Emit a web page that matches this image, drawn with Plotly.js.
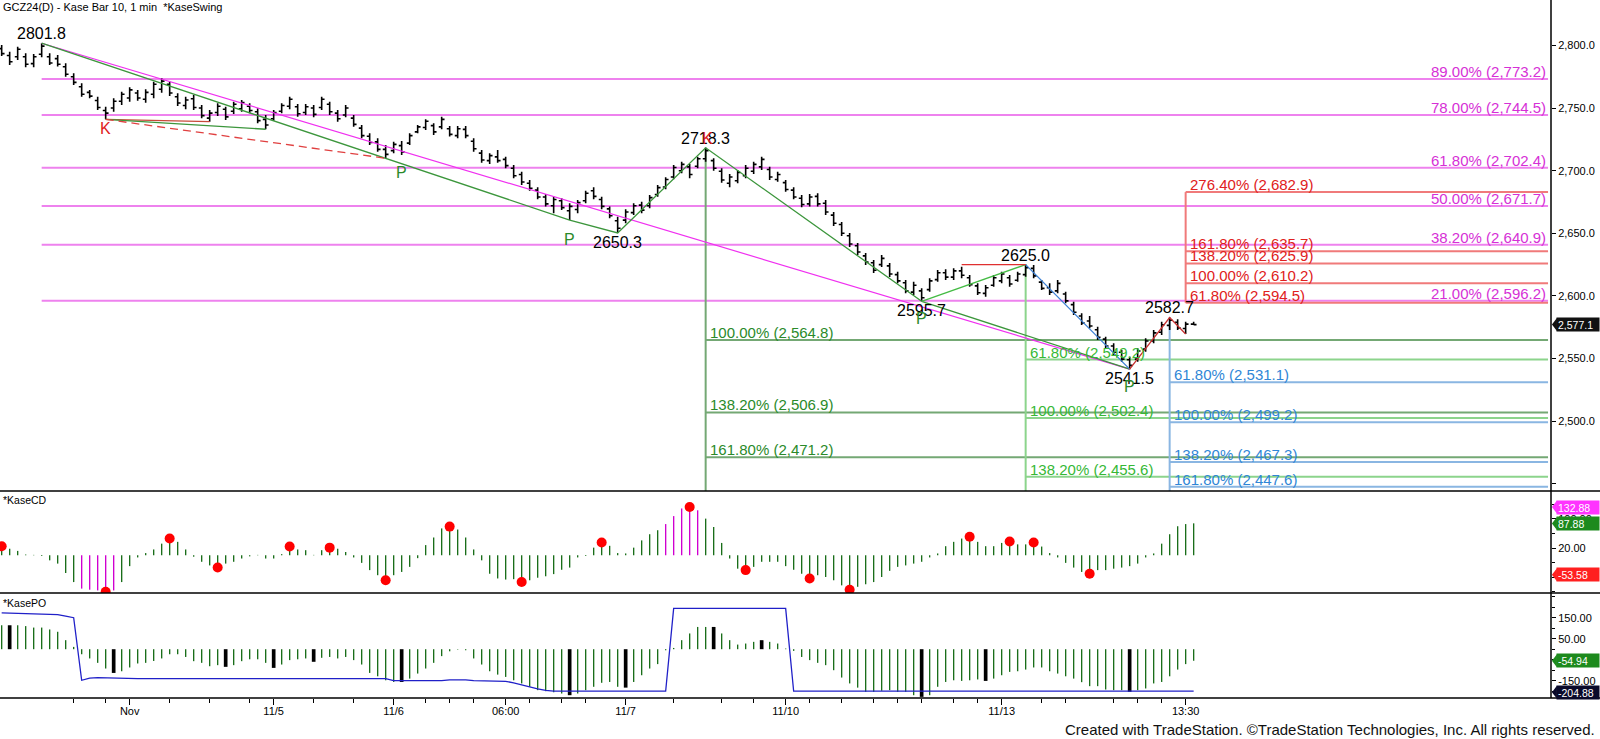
<!DOCTYPE html>
<html><head><meta charset="utf-8">
<script src="https://cdn.plot.ly/plotly-3.0.1.min.js"></script>
<style>html,body{margin:0;padding:0;background:#fff;}#chart{width:1600px;height:739px;}</style>
</head><body><div id="chart"></div>
<script>
// ---------------- DATA ----------------
const barOpen = [2797.5,2792.0,2791.0,2791.0,2785.5,2793.0,2791.0,2789.5,2783.0,2775.0,
 2767.0,2762.5,2756.0,2748.0,2750.0,2755.5,2758.0,2762.0,2757.0,2761.0,
 2765.0,2769.0,2759.0,2752.0,2757.5,2750.0,2742.0,2746.5,2749.0,2747.5,
 2749.5,2751.5,2747.0,2741.0,2741.5,2747.5,2751.5,2751.0,2746.5,2750.0,
 2750.5,2753.0,2746.0,2744.5,2742.0,2734.0,2727.5,2723.0,2717.0,2716.0,
 2720.0,2722.0,2731.0,2734.5,2736.0,2735.0,2733.5,2728.0,2733.0,2723.5,
 2714.0,2708.0,2711.0,2709.0,2702.0,2697.0,2690.0,2684.5,2679.0,2672.0,
 2676.0,2668.0,2669.0,2676.0,2684.0,2677.0,2669.5,2660.0,2660.5,2666.5,
 2672.5,2672.0,2681.0,2687.0,2695.0,2700.0,2703.0,2703.5,2709.5,2708.0,
 2699.5,2690.0,2692.0,2696.0,2699.5,2703.0,2701.0,2693.0,2690.5,2684.5,
 2678.0,2673.5,2679.5,2674.0,2664.5,2657.0,2648.0,2640.0,2632.0,2626.5,
 2625.0,2624.0,2617.0,2610.5,2603.0,2604.0,2605.0,2613.0,2618.5,2615.0,
 2620.0,2614.5,2608.0,2602.0,2608.5,2612.0,2614.5,2612.5,2617.0,2622.0,
 2611.0,2606.5,2604.0,2601.5,2593.0,2584.0,2580.0,2573.0,2565.5,2560.0,
 2555.0,2549.0,2549.5,2557.5,2564.0,2571.0,2576.5,2579.0,2574.0,2577.5];
const barHigh = [2800.4,2795.0,2799.0,2793.8,2793.2,2801.8,2793.8,2792.4,2785.8,2777.8,
 2769.8,2764.5,2759.1,2751.1,2757.8,2763.1,2766.6,2764.5,2765.0,2771.1,
 2773.8,2771.1,2761.8,2759.1,2760.5,2752.5,2748.5,2753.8,2751.1,2755.1,
 2756.5,2753.8,2749.8,2744.5,2748.5,2753.8,2759.1,2753.3,2753.3,2752.5,
 2759.1,2755.1,2748.5,2752.5,2744.5,2736.5,2729.9,2725.9,2720.5,2723.2,
 2723.7,2729.9,2736.5,2741.1,2737.9,2743.1,2735.7,2735.7,2735.7,2725.9,
 2716.5,2713.9,2716.5,2711.2,2704.5,2699.2,2692.6,2686.7,2681.4,2679.2,
 2678.0,2674.0,2676.6,2684.0,2686.7,2679.2,2671.3,2663.3,2669.2,2674.0,
 2675.2,2680.6,2688.6,2694.7,2704.5,2707.2,2705.3,2711.2,2718.3,2709.9,
 2701.9,2697.4,2700.6,2704.5,2707.2,2711.2,2703.2,2699.2,2692.6,2686.7,
 2680.6,2681.4,2681.9,2676.6,2667.0,2659.0,2650.2,2642.3,2634.3,2628.7,
 2632.7,2626.3,2619.3,2612.7,2611.3,2606.1,2614.1,2620.7,2621.2,2622.0,
 2623.3,2616.7,2610.1,2608.7,2616.7,2619.3,2616.7,2619.3,2625.0,2624.7,
 2612.7,2610.1,2612.7,2603.3,2595.4,2586.1,2583.9,2575.4,2567.4,2562.1,
 2556.8,2551.4,2558.2,2566.1,2572.8,2579.4,2582.7,2581.3,2579.4,2579.4];
const barLow = [2791.6,2784.4,2788.4,2782.6,2782.6,2790.6,2784.4,2783.1,2775.1,2768.4,
 2759.1,2757.8,2748.5,2741.0,2747.1,2752.5,2755.1,2755.9,2754.3,2757.8,
 2762.3,2759.7,2751.7,2749.0,2748.5,2741.8,2739.1,2743.7,2740.5,2745.3,
 2747.1,2745.8,2737.9,2733.1,2739.9,2745.8,2749.0,2743.1,2744.5,2742.6,
 2748.5,2744.5,2739.1,2742.6,2735.1,2725.9,2720.5,2715.2,2709.9,2713.9,
 2712.5,2720.5,2729.9,2732.5,2728.5,2733.1,2727.2,2725.9,2725.9,2715.2,
 2706.4,2705.4,2706.4,2701.9,2693.9,2688.6,2684.0,2677.2,2671.3,2666.0,
 2668.6,2660.6,2666.0,2673.9,2677.2,2669.2,2662.0,2650.3,2658.0,2664.6,
 2666.0,2669.9,2679.2,2685.1,2693.1,2697.9,2693.9,2701.9,2707.2,2700.0,
 2690.4,2686.7,2689.9,2693.9,2697.4,2700.6,2692.6,2691.2,2683.2,2677.2,
 2670.8,2671.3,2671.3,2664.6,2655.8,2647.8,2639.1,2632.7,2624.7,2618.3,
 2623.1,2615.1,2610.1,2602.1,2600.7,2595.7,2603.4,2611.3,2612.7,2612.7,
 2614.1,2607.4,2600.7,2599.4,2607.4,2610.1,2607.4,2611.3,2615.3,2614.1,
 2604.7,2600.7,2602.1,2594.1,2584.8,2576.7,2574.1,2564.8,2558.2,2552.8,
 2547.4,2541.5,2547.4,2555.4,2562.1,2568.8,2572.8,2572.8,2569.6,2576.7];
const barClose = [2793.5,2787.0,2797.0,2785.0,2791.0,2799.5,2786.0,2785.0,2777.0,2770.5,
 2761.0,2759.5,2750.5,2746.0,2755.5,2761.0,2764.5,2758.0,2762.5,2769.0,
 2771.5,2762.0,2754.0,2756.5,2750.5,2744.0,2746.0,2751.5,2743.0,2753.0,
 2754.5,2748.0,2740.0,2736.5,2746.5,2752.0,2757.0,2745.5,2751.0,2745.0,
 2757.0,2747.0,2741.5,2750.0,2737.0,2728.0,2722.5,2717.0,2713.0,2721.0,
 2715.0,2728.0,2735.0,2739.5,2731.0,2741.0,2729.0,2733.5,2728.0,2717.5,
 2708.5,2712.0,2708.0,2704.0,2696.0,2691.0,2686.0,2679.0,2673.5,2677.0,
 2670.5,2671.5,2674.5,2682.0,2679.5,2671.5,2664.0,2654.0,2667.0,2672.0,
 2668.5,2678.5,2686.5,2693.0,2702.5,2705.0,2697.0,2709.5,2716.0,2702.0,
 2692.5,2695.0,2698.5,2702.0,2705.0,2709.0,2695.0,2697.0,2685.0,2679.0,
 2673.0,2679.0,2673.5,2667.0,2658.0,2650.0,2641.5,2635.0,2627.0,2620.5,
 2630.0,2617.5,2612.0,2604.0,2608.5,2598.5,2612.0,2618.5,2615.0,2620.0,
 2616.5,2609.0,2602.5,2606.5,2614.5,2617.5,2609.5,2617.5,2622.5,2616.0,
 2606.0,2603.0,2610.0,2596.0,2587.0,2578.5,2576.0,2567.0,2560.0,2555.0,
 2549.5,2544.5,2556.0,2564.0,2570.5,2577.0,2580.5,2574.5,2577.5,2577.1];

const cdValues = [25,18,12,2,1,-2,-14,-23,-49,-74,
 -92,-95,-97,-101,-97,-74,-30,-6,6,16,
 32,46,37,16,-4,-18,-28,-34,-23,-18,
 -9,-3,1,-9,-9,3,24,16,14,1,
 14,21,18,9,-6,-21,-41,-55,-69,-55,
 -46,-32,-8,28,49,74,79,71,49,16,
 -14,-51,-64,-67,-66,-74,-69,-62,-58,-52,
 -40,-34,-6,-2,21,35,26,6,5,21,
 41,58,69,86,108,129,133,124,101,78,
 34,-9,-37,-41,-32,-18,-18,-18,-30,-40,
 -51,-64,-55,-60,-69,-83,-95,-87,-80,-74,
 -60,-43,-32,-28,-23,-18,-6,5,25,37,
 46,51,37,25,25,34,38,30,30,35,
 24,6,-6,-21,-34,-46,-51,-41,-41,-37,
 -34,-30,-23,-6,5,32,58,80,86,88];
const cdMagentaIdx = [10,11,12,13,14,83,84,85,86,87];
const cdDotIdx = [0,13,21,27,36,41,48,56,65,75,86,93,101,106,121,126,129,136];

const poValues = [114,114,114,110,103,103,94,83,43,11,
 -24,-44,-65,-92,-113,-105,-87,-68,-65,-56,
 -44,-24,-24,-37,-57,-65,-81,-76,-84,-76,
 -57,-48,-48,-65,-89,-73,-52,-48,-44,-60,
 -41,-37,-44,-37,-52,-73,-113,-129,-148,-156,
 -156,-140,-116,-92,-65,-33,-10,-2,-5,-44,
 -73,-105,-121,-132,-148,-163,-179,-195,-200,-205,
 -211,-219,-211,-195,-179,-160,-156,-179,-183,-156,
 -124,-92,-71,-5,6,43,75,106,106,106,
 75,43,22,27,35,43,35,27,3,-8,
 -37,-52,-65,-76,-100,-135,-163,-183,-203,-203,
 -198,-195,-203,-203,-219,-227,-219,-179,-156,-148,
 -151,-148,-144,-151,-140,-124,-108,-105,-97,-87,
 -87,-105,-116,-129,-140,-157,-176,-176,-192,-195,
 -195,-203,-195,-187,-163,-156,-129,-97,-71,-55];
const poBlackIdx = [1,14,28,34,39,50,71,78,89,95,115,123,141];
const poLine = [173,172,171,170,170,169,168,165,158,150,
 -148,-138,-135,-136,-140,-140,-140,-140,-140,-140,
 -140,-140,-140,-140,-140,-140,-140,-140,-140,-140,
 -140,-140,-140,-140,-140,-140,-140,-140,-140,-140,
 -140,-140,-140,-140,-140,-140,-140,-140,-140,-150,
 -150,-150,-150,-150,-150,-150,-146,-145,-146,-150,
 -150,-151,-152,-153,-160,-170,-180,-189,-196,-200,
 -200,-200,-200,-200,-200,-200,-200,-200,-200,-200,
 -200,-200,-200,-200,194,194,194,194,194,194,
 194,194,194,194,194,194,194,194,194,-200,
 -200,-200,-200,-200,-200,-200,-200,-200,-200,-200,
 -200,-200,-200,-200,-200,-200,-200,-200,-200,-200,
 -200,-200,-200,-200,-200,-200,-200,-200,-200,-200,
 -200,-200,-200,-200,-200,-200,-200,-200,-200,-200,
 -200,-200,-200,-200,-200,-200,-200,-200,-200,-200];

// swing lines (bar index, price)
const trendMagentaX = [5, 141], trendMagentaY = [2801.8, 2541.5];
const greenSwingX = [5, 71, 77, 88, 115], greenSwingY = [2801.8, 2660.6, 2650.3, 2718.3, 2595.7];
const greenLongX = [115, 141], greenLongY = [2595.7, 2541.5];
const lightGreenX = [115, 128], lightGreenY = [2595.7, 2625.0];
const blueSwingX = [128, 141], blueSwingY = [2625.0, 2541.5];
const redSwingX = [141, 146, 148], redSwingY = [2541.5, 2582.7, 2569.6];
const redTopX = [120, 128], redTopY = [2625.0, 2625.0];
const kRedX = [13, 26], kRedY = [2741.0, 2739.1];
const kGreenX = [13, 33], kGreenY = [2741.0, 2733.1];
const kDashX = [13, 48], kDashY = [2741.0, 2709.9];

// price swing labels
const swingLabelText = ['2801.8', '2650.3', '2718.3', '2595.7', '2625.0', '2541.5', '2582.7'];
const swingLabelIdx = [5, 77, 88, 115, 128, 141, 146];
const swingLabelPrice = [2809.2, 2642.7, 2726.1, 2588.3, 2632.3, 2534.0, 2591.1];
const kpText = ['K', 'K', 'P', 'P', 'P', 'P'];
const kpIdx = [13, 88.2, 50, 71, 115, 141];
const kpPrice = [2733.7, 2726.1, 2698.2, 2645.4, 2581.6, 2528.0];

// level sets
const magLevels = [2773.2, 2744.5, 2702.4, 2671.7, 2640.9, 2596.2];
const magPct = ['89.00%', '78.00%', '61.80%', '50.00%', '38.20%', '21.00%'];
const magStart = 5;
const redLevels = [2682.9, 2635.7, 2625.9, 2610.2, 2594.5];
const redPct = ['276.40%', '161.80%', '138.20%', '100.00%', '61.80%'];
const redStart = 148;
const dkGreenLevels = [2564.8, 2506.9, 2471.2];
const dkGreenPct = ['100.00%', '138.20%', '161.80%'];
const dkGreenStart = 88, dkGreenTop = 2718.3;
const ltGreenLevels = [2549.2, 2502.4, 2455.6];
const ltGreenPct = ['61.80%', '100.00%', '138.20%'];
const ltGreenStart = 128, ltGreenTop = 2625.0;
const blueLevels = [2531.1, 2499.2, 2467.3, 2447.6];
const bluePct = ['61.80%', '100.00%', '138.20%', '161.80%'];
const blueStart = 146, blueTop = 2582.7;

// axis ticks
const xTickVals = [16, 34, 49, 63, 78, 98, 125, 148];
const xTickText = ['Nov', '11/5', '11/6', '06:00', '11/7', '11/10', '11/13', '13:30'];
const xMinorVals = [9, 13, 21, 26, 31, 39, 44, 53, 56, 59, 66, 70, 73, 84, 90, 94, 101, 105, 109, 112, 115, 119, 122, 130, 133, 139, 142, 145];
const priceTicks = [2450, 2500, 2550, 2600, 2650, 2700, 2750, 2800];
const priceTickText = ['', '2,500.0', '2,550.0', '2,600.0', '2,650.0', '2,700.0', '2,750.0', '2,800.0'];
const cdTicks = [100, 20, -60], cdTickText = ['100.00', '20.00', ''];
const cdMinor = [140, 60, -20, -100];
const poTicks = [150, 50, -50, -150], poTickText = ['150.00', '50.00', '-50.00', '-150.00'];
const poMinor = [250, 200, 100, 0, -100, -200];

// last-value boxes
const lastPrice = 2577.1;
const cdBoxVals = [132.88, 87.88, -53.58];
const cdBoxColors = ['#ff33ff', '#1d8a1d', '#ff2020'];
const poBoxVals = [-54.94, -204.88];
const poBoxColors = ['#1d8a1d', '#0a0a2a'];

// ---------------- LAYOUT CONSTANTS ----------------
const FONT = 'Liberation Sans, Arial, sans-serif';
const mainRange = [2444.2, 2836.3];
const cdRange = [-104.1, 177.2];
const poRange = [-232.4, 267.6];
const xRange = [-0.209, 193.67];
const xEnd = 193.3;
const dMain = [0.29656, 1], dCD = [0.15043, 0.29656], dPO = [0, 0.15043];

const C = {
  magLine: '#ee82ee', magText: '#d630d6',
  redLine: '#f07a7a', redText: '#e02020',
  dkLine: '#74a874', dkText: '#2a8a2a',
  ltLine: '#8cd48c', ltText: '#36b836',
  blLine: '#8ab6e2', blText: '#2f86d6'
};

const idx = barHigh.map((_, i) => i);
const fmt = v => v.toLocaleString('en-US', {minimumFractionDigits: 1, maximumFractionDigits: 1});

const shapes = [];
const annotations = [];

function addLevels(levels, pcts, start, lineColor, textColor, rightAlign) {
  levels.forEach((v, k) => {
    shapes.push({type: 'line', xref: 'x', yref: 'y', x0: start, x1: xEnd, y0: v, y1: v,
      line: {color: lineColor, width: 2}, layer: 'below'});
    annotations.push({xref: 'x', yref: 'y', x: rightAlign ? xEnd : start, y: v,
      xanchor: rightAlign ? 'right' : 'left', yanchor: 'bottom', xshift: rightAlign ? 0 : 2, yshift: -3,
      text: pcts[k] + ' (' + fmt(v) + ')', showarrow: false,
      font: {family: FONT, size: 15, color: textColor}});
  });
}
addLevels(magLevels, magPct, magStart, C.magLine, C.magText, true);
addLevels(redLevels, redPct, redStart, C.redLine, C.redText, false);
addLevels(dkGreenLevels, dkGreenPct, dkGreenStart, C.dkLine, C.dkText, false);
addLevels(ltGreenLevels, ltGreenPct, ltGreenStart, C.ltLine, C.ltText, false);
addLevels(blueLevels, bluePct, blueStart, C.blLine, C.blText, false);

// verticals
shapes.push({type: 'line', xref: 'x', yref: 'y', x0: dkGreenStart, x1: dkGreenStart, y0: dkGreenTop, y1: mainRange[0], line: {color: C.dkLine, width: 2}, layer: 'below'});
shapes.push({type: 'line', xref: 'x', yref: 'y', x0: ltGreenStart, x1: ltGreenStart, y0: ltGreenTop, y1: mainRange[0], line: {color: C.ltLine, width: 2}, layer: 'below'});
shapes.push({type: 'line', xref: 'x', yref: 'y', x0: blueStart, x1: blueStart, y0: blueTop, y1: mainRange[0], line: {color: C.blLine, width: 2}, layer: 'below'});
shapes.push({type: 'line', xref: 'x', yref: 'y', x0: redStart, x1: redStart, y0: redLevels[redLevels.length - 1], y1: redLevels[0], line: {color: C.redLine, width: 2}, layer: 'below'});

// panel separators + right axis line
[dMain[0], dCD[0], 0].forEach(p => shapes.push({type: 'line', xref: 'paper', yref: 'paper', x0: -0.01, x1: 1.0316, y0: p, y1: p, line: {color: '#000', width: 1.5}}));
shapes.push({type: 'line', xref: 'paper', yref: 'paper', x0: 1, x1: 1, y0: 0, y1: 1, line: {color: '#000', width: 1.5}});

// swing labels
swingLabelText.forEach((t, k) => annotations.push({xref: 'x', yref: 'y', x: swingLabelIdx[k], y: swingLabelPrice[k],
  text: t, showarrow: false, xanchor: 'center', yanchor: 'middle', font: {family: FONT, size: 16, color: '#000'}}));
kpText.forEach((t, k) => annotations.push({xref: 'x', yref: 'y', x: kpIdx[k], y: kpPrice[k],
  text: t, showarrow: false, xanchor: 'center', yanchor: 'middle',
  font: {family: FONT, size: 16, color: t === 'K' ? '#e02020' : '#2a8a2a'}}));

// value boxes
const bx = 1556 / 1551;
function valueBox(text, yref, v, bg, halfUnits) {
  annotations.push({xref: 'paper', yref: yref, x: bx, y: v, xanchor: 'left', yanchor: 'middle',
    text: text, showarrow: false, bgcolor: bg, borderpad: 1, width: 40, height: 11, align: 'left',
    font: {family: FONT, size: 10.5, color: '#fff'}});
  shapes.push({type: 'path', xref: 'paper', yref: yref,
    path: 'M 1.0006,' + v + ' L ' + (bx + 0.0006) + ',' + (v + halfUnits) + ' L ' + (bx + 0.0006) + ',' + (v - halfUnits) + ' Z',
    fillcolor: bg, line: {width: 0}});
}
valueBox(fmt(lastPrice), 'y', lastPrice, '#111111', 6.5 / 1.252);
cdBoxVals.forEach((v, k) => valueBox(v.toFixed(2), 'y2', v, cdBoxColors[k], 6.5 / 0.3625));
poBoxVals.forEach((v, k) => valueBox(v.toFixed(2), 'y3', v, poBoxColors[k], 6.5 / 0.21));

// header, panel titles, footer
annotations.push({xref: 'paper', yref: 'paper', x: 0.0005, y: 1, xanchor: 'left', yanchor: 'top', yshift: 1,
  text: 'GCZ24(D) - Kase Bar 10, 1 min \u00a0*KaseSwing', showarrow: false, font: {family: FONT, size: 11, color: '#000'}});
annotations.push({xref: 'paper', yref: 'paper', x: 0.0005, y: (698 - 500) / 698, xanchor: 'left', yanchor: 'middle',
  text: '*KaseCD', showarrow: false, font: {family: FONT, size: 10.5, color: '#000'}});
annotations.push({xref: 'paper', yref: 'paper', x: 0.0005, y: (698 - 602.5) / 698, xanchor: 'left', yanchor: 'middle',
  text: '*KasePO', showarrow: false, font: {family: FONT, size: 10.5, color: '#000'}});
annotations.push({xref: 'paper', yref: 'paper', x: 1597 / 1551, y: (698 - 729) / 698, xanchor: 'right', yanchor: 'middle',
  text: 'Created with TradeStation. ©TradeStation Technologies, Inc. All rights reserved.', showarrow: false,
  font: {family: FONT, size: 15, color: '#111'}});

// ---------------- TRACES ----------------
function line(x, y, color, width, dash) {
  return {type: 'scatter', mode: 'lines', x: x, y: y, xaxis: 'x', yaxis: 'y',
    line: {color: color, width: width, dash: dash || 'solid'}, hoverinfo: 'skip'};
}
const traces = [
  {type: 'ohlc', x: idx, open: barOpen, high: barHigh, low: barLow, close: barClose, xaxis: 'x', yaxis: 'y',
    increasing: {line: {color: '#000', width: 1.6}}, decreasing: {line: {color: '#000', width: 1.6}},
    tickwidth: 0.36, hoverinfo: 'skip'},
  line(trendMagentaX, trendMagentaY, '#f030f0', 1.2),
  line(greenSwingX, greenSwingY, '#3c963c', 1.3),
  line(greenLongX, greenLongY, '#3c963c', 1.3),
  line(lightGreenX, lightGreenY, '#44bb44', 1.3),
  line(blueSwingX, blueSwingY, '#3a7fd5', 1.3),
  line(redSwingX, redSwingY, '#c83030', 1.3),
  line(redTopX, redTopY, '#e03030', 1.3),
  line(kRedX, kRedY, '#c84a3a', 1.3),
  line(kGreenX, kGreenY, '#3c963c', 1.3),
  line(kDashX, kDashY, '#e04040', 1.3, '8px,5px'),
  {type: 'bar', x: idx, y: cdValues, xaxis: 'x', yaxis: 'y2', width: 0.17,
    marker: {color: cdValues.map((v, i) => cdMagentaIdx.includes(i) ? '#d000d0' : '#1a6e1a'), line: {width: 0}}, hoverinfo: 'skip'},
  {type: 'scatter', mode: 'markers', x: cdDotIdx, y: cdDotIdx.map(i => cdValues[i]), xaxis: 'x', yaxis: 'y2',
    marker: {color: '#ff0000', size: 10}, hoverinfo: 'skip'},
  {type: 'bar', x: idx.filter(i => !poBlackIdx.includes(i)), y: idx.filter(i => !poBlackIdx.includes(i)).map(i => poValues[i]),
    xaxis: 'x', yaxis: 'y3', width: 0.17, marker: {color: '#1a6e1a', line: {width: 0}}, hoverinfo: 'skip'},
  {type: 'bar', x: poBlackIdx, y: poBlackIdx.map(i => poValues[i]), xaxis: 'x', yaxis: 'y3', width: 0.46,
    marker: {color: '#000', line: {width: 0}}, hoverinfo: 'skip'},
  {type: 'scatter', mode: 'lines', x: idx, y: poLine, xaxis: 'x', yaxis: 'y3', line: {color: '#2020c8', width: 1.3}, hoverinfo: 'skip'}
];

const yCommon = {side: 'right', anchor: 'x', showgrid: false, zeroline: false, showline: false, fixedrange: true,
  ticks: 'outside', ticklen: 4, tickcolor: '#000', tickwidth: 1, tickmode: 'array',
  tickfont: {family: FONT, size: 11, color: '#000'}};

const layout = {
  width: 1600, height: 739, margin: {l: 0, r: 49, t: 0, b: 41, pad: 0},
  paper_bgcolor: '#fff', plot_bgcolor: '#fff', showlegend: false, hovermode: false, barmode: 'overlay',
  font: {family: FONT, color: '#000'},
  xaxis: {range: xRange, anchor: 'y3', showgrid: false, zeroline: false, showline: false,
    rangeslider: {visible: false}, tickmode: 'array', tickvals: xTickVals, ticktext: xTickText,
    ticks: 'outside', ticklen: 6, tickcolor: '#000', tickwidth: 1, ticklabelstandoff: -3,
    tickfont: {family: FONT, size: 11, color: '#000'},
    minor: {tickmode: 'array', tickvals: xMinorVals, ticks: 'outside', ticklen: 4, tickcolor: '#000', tickwidth: 1}},
  yaxis: Object.assign({}, yCommon, {domain: dMain, range: mainRange, tickvals: priceTicks, ticktext: priceTickText}),
  yaxis2: Object.assign({}, yCommon, {domain: dCD, range: cdRange, tickvals: cdTicks, ticktext: cdTickText,
    minor: {tickmode: 'array', tickvals: cdMinor, ticks: 'outside', ticklen: 3, tickcolor: '#000'}}),
  yaxis3: Object.assign({}, yCommon, {domain: dPO, range: poRange, tickvals: poTicks, ticktext: poTickText,
    minor: {tickmode: 'array', tickvals: poMinor, ticks: 'outside', ticklen: 3, tickcolor: '#000'}}),
  shapes: shapes,
  annotations: annotations
};

Plotly.newPlot('chart', traces, layout, {staticPlot: true, displayModeBar: false});
</script>
</body></html>
